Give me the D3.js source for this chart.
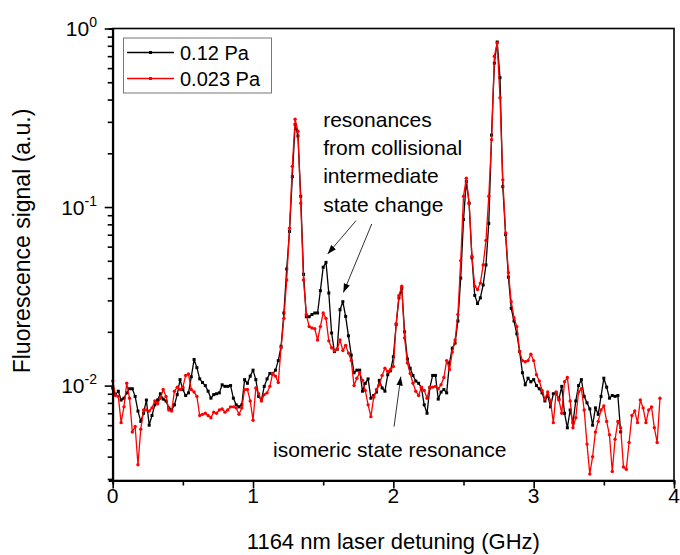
<!DOCTYPE html>
<html>
<head>
<meta charset="utf-8">
<script src="https://cdn.jsdelivr.net/npm/d3@7"></script>
<style>
body { margin: 0; background: #fff; }
text { font-family: "Liberation Sans", Arial, sans-serif; fill: #000; }
</style>
</head>
<body>
<div class="plot"></div>
<script>
// detuning grid of the scan (GHz)
var scanStart = 0.0,
    scanStep = 0.02;

// 0.12 Pa, fluorescence (a.u.)
var signal012 = [
  0.0097, 0.0089, 0.0093, 0.0083, 0.0085, 0.0091, 0.0096, 0.0096, 0.0087, 0.0072,
  0.0063, 0.0070, 0.0083, 0.0060, 0.0068, 0.0078, 0.0083, 0.0090, 0.0084, 0.0082,
  0.0075, 0.0073, 0.0078, 0.0089, 0.0108, 0.0095, 0.0088, 0.0091, 0.0112, 0.0140,
  0.0126, 0.0109, 0.0104, 0.0100, 0.0093, 0.0085, 0.0089, 0.0090, 0.0091, 0.0101,
  0.0099, 0.0099, 0.0100, 0.0085, 0.0078, 0.0076, 0.0078, 0.0108, 0.0103, 0.0113,
  0.0122, 0.0108, 0.0087, 0.0083, 0.0099, 0.0109, 0.0117, 0.0116, 0.0122, 0.0138,
  0.0166, 0.0255, 0.045, 0.073, 0.148, 0.29, 0.25, 0.115, 0.042, 0.0243,
  0.0243, 0.0250, 0.0255, 0.0255, 0.034, 0.046, 0.049, 0.033, 0.0197, 0.0155,
  0.0160, 0.0266, 0.0295, 0.0244, 0.0190, 0.0148, 0.0118, 0.0122, 0.0122, 0.0093,
  0.0103, 0.0109, 0.0085, 0.0088, 0.0092, 0.0107, 0.0097, 0.0093, 0.0115, 0.0121,
  0.0145, 0.0220, 0.031, 0.035, 0.020, 0.0141, 0.0125, 0.0114, 0.0106, 0.0103,
  0.0097, 0.0078, 0.0070, 0.0097, 0.0114, 0.0114, 0.0084, 0.0092, 0.0095, 0.0091,
  0.0134, 0.0162, 0.0173, 0.023, 0.040, 0.085, 0.139, 0.105, 0.052, 0.032,
  0.0288, 0.031, 0.0366, 0.0474, 0.081, 0.253, 0.64, 0.84, 0.53, 0.130,
  0.070, 0.0405, 0.0271, 0.0230, 0.0195, 0.0155, 0.0118, 0.0101, 0.0110, 0.0105,
  0.0108, 0.0100, 0.0096, 0.0091, 0.0082, 0.0088, 0.0076, 0.0090, 0.0091, 0.0084,
  0.0099, 0.0070, 0.0058, 0.0073, 0.0062, 0.0082, 0.0100, 0.0108, 0.0087, 0.0080,
  0.0074, 0.0060, 0.0075, 0.0069, 0.0087, 0.0110, 0.0098, 0.0085, 0.0088, 0.0087,
  0.0088, 0.0055
];

// 0.023 Pa, fluorescence (a.u.)
var signal0023 = [
  0.0106, 0.0088, 0.0087, 0.0062, 0.0076, 0.0103, 0.0085, 0.0055, 0.0059, 0.0036,
  0.0057, 0.0073, 0.0073, 0.0072, 0.0075, 0.0082, 0.0079, 0.0085, 0.0095, 0.0087,
  0.0073, 0.0072, 0.0093, 0.0098, 0.0095, 0.0098, 0.0114, 0.0116, 0.0095, 0.0092,
  0.0087, 0.0068, 0.0069, 0.0070, 0.0068, 0.0066, 0.0071, 0.0070, 0.0073, 0.0074,
  0.0071, 0.0073, 0.0076, 0.0076, 0.0075, 0.0069, 0.0075, 0.0095, 0.0095, 0.0082,
  0.0064, 0.0097, 0.0090, 0.0082, 0.0089, 0.0091, 0.0099, 0.0117, 0.0113, 0.0104,
  0.0163, 0.0238, 0.039, 0.076, 0.169, 0.31, 0.266, 0.105, 0.039, 0.025,
  0.0214, 0.0210, 0.0208, 0.0180, 0.0214, 0.0255, 0.0238, 0.0178, 0.0163, 0.0156,
  0.0160, 0.0180, 0.0157, 0.0168, 0.0152, 0.0138, 0.0100, 0.0110, 0.0118, 0.0107,
  0.0094, 0.0078, 0.0067, 0.0086, 0.0095, 0.0101, 0.0114, 0.0125, 0.0120, 0.0123,
  0.0128, 0.0222, 0.032, 0.036, 0.0185, 0.0134, 0.0117, 0.0103, 0.0093, 0.0088,
  0.0098, 0.0094, 0.0085, 0.0098, 0.0098, 0.0099, 0.0096, 0.0101, 0.0111, 0.0138,
  0.0123, 0.0154, 0.0180, 0.025, 0.050, 0.115, 0.145, 0.105, 0.053, 0.036,
  0.0345, 0.0375, 0.0474, 0.065, 0.115, 0.238, 0.70, 0.83, 0.41, 0.142,
  0.0715, 0.043, 0.0295, 0.0240, 0.0214, 0.0155, 0.0138, 0.0136, 0.0138, 0.0150,
  0.0138, 0.0115, 0.0106, 0.0094, 0.0084, 0.0092, 0.0082, 0.0062, 0.0092, 0.0083,
  0.0070, 0.0105, 0.0111, 0.0082, 0.0058, 0.0066, 0.0092, 0.0096, 0.0073, 0.0047,
  0.0032, 0.0040, 0.0055, 0.0063, 0.0073, 0.0077, 0.0063, 0.0053, 0.0033, 0.0050,
  0.0063, 0.0058, 0.0035, 0.0034, 0.0048, 0.0068, 0.0072, 0.0062, 0.0083, 0.0075,
  0.0062, 0.0073, 0.0076, 0.0058, 0.0048, 0.0085
];

var seriesNames = ["0.12 Pa", "0.023 Pa"];
var xTickLabels = [0, 1, 2, 3, 4];
var yDecades = [-2, -1, 0];
var noteLines = ["resonances", "from collisional", "intermediate", "state change"];
var isoNote = "isomeric state resonance";

var width = 680,
    height = 555;

var x = d3.scaleLinear()
    .domain([0, 4])
    .range([112.7, 674]);

var y = d3.scaleLog()
    .domain([0.00294, 1])
    .range([480.5, 28.5]);

var svg = d3.select(".plot").append("svg")
    .attr("width", width)
    .attr("height", height);

var defs = svg.append("defs");
defs.append("marker")
    .attr("id", "head")
    .attr("viewBox", "0 0 10 10")
    .attr("refX", 10)
    .attr("refY", 5)
    .attr("markerUnits", "userSpaceOnUse")
    .attr("markerWidth", 9)
    .attr("markerHeight", 9)
    .attr("orient", "auto")
  .append("path")
    .attr("d", "M0,1.5 L10,5 L0,8.5 Z")
    .attr("fill", "#000");

function toPoints(values) {
  return values.map(function(v, i) {
    return {f: scanStart + i * scanStep, v: v};
  });
}

var series = [
  {name: seriesNames[0], color: "#000000", shape: "square", points: toPoints(signal012)},
  {name: seriesNames[1], color: "#ff0000", shape: "circle", points: toPoints(signal0023)}
];

var line = d3.line()
    .x(function(d) { return x(d.f); })
    .y(function(d) { return y(d.v); });

// traces
series.forEach(function(s) {
  var g = svg.append("g").attr("class", "trace");
  g.append("path")
      .datum(s.points)
      .attr("d", line)
      .attr("fill", "none")
      .attr("stroke", s.color)
      .attr("stroke-width", 1.3)
      .attr("stroke-linejoin", "round");
  if (s.shape == "square") {
    g.selectAll("rect")
        .data(s.points)
      .enter().append("rect")
        .attr("x", function(d) { return x(d.f) - 1.5; })
        .attr("y", function(d) { return y(d.v) - 1.5; })
        .attr("width", 3)
        .attr("height", 3)
        .attr("fill", s.color);
  } else {
    g.selectAll("circle")
        .data(s.points)
      .enter().append("circle")
        .attr("cx", function(d) { return x(d.f); })
        .attr("cy", function(d) { return y(d.v); })
        .attr("r", 1.7)
        .attr("fill", s.color);
  }
});

// frame
svg.append("rect")
    .attr("x", x.range()[0])
    .attr("y", y.range()[1])
    .attr("width", x.range()[1] - x.range()[0])
    .attr("height", y.range()[0] - y.range()[1])
    .attr("fill", "none")
    .attr("stroke", "#000")
    .attr("stroke-width", 1.6);

// x axis
var xTickVals = d3.range(0, 4.001, 0.5);
var xAxis = svg.append("g")
    .attr("transform", "translate(0," + y.range()[0] + ")")
    .call(d3.axisBottom(x).tickValues(xTickVals).tickSizeOuter(0).tickSize(4).tickFormat(""));
xAxis.select(".domain").attr("stroke-width", 2);
xAxis.selectAll(".tick line")
    .attr("stroke-width", 1.6)
    .attr("y2", function(d) { return d % 1 === 0 ? 8 : 5; });

svg.append("g").selectAll("text")
    .data(xTickLabels)
  .enter().append("text")
    .attr("x", function(d) { return x(d); })
    .attr("y", 503)
    .attr("text-anchor", "middle")
    .style("font-size", "21px")
    .text(function(d) { return d; });

// y axis, log decades with minor ticks
var yTickVals = [];
yDecades.forEach(function(e) {
  for (var k = 1; k < 10; k++) {
    var v = k * Math.pow(10, e - 1);
    if (v >= y.domain()[0] * 0.999) yTickVals.push(v);
  }
});
yTickVals.push(1);

var yAxis = svg.append("g")
    .attr("transform", "translate(" + x.range()[0] + ",0)")
    .call(d3.axisLeft(y).tickValues(yTickVals).tickSizeOuter(0).tickSize(4).tickFormat(""));
yAxis.select(".domain").attr("stroke-width", 2);
yAxis.selectAll(".tick line")
    .attr("stroke-width", 1.6)
    .attr("x2", function(d) {
      var l = Math.log10(d);
      return Math.abs(l - Math.round(l)) < 1e-6 ? -8 : -5;
    });

var yLab = svg.append("g").selectAll("text")
    .data(yDecades)
  .enter().append("text")
    .attr("x", 97)
    .attr("y", function(d) { return y(Math.pow(10, d)) + 7.5; })
    .attr("text-anchor", "end")
    .style("font-size", "21px");
yLab.append("tspan").text("10");
yLab.append("tspan")
    .attr("dy", -9)
    .style("font-size", "14px")
    .text(function(d) { return d === 0 ? "0" : String(d); });

// axis titles
svg.append("text")
    .attr("x", (x.range()[0] + x.range()[1]) / 2)
    .attr("y", 549)
    .attr("text-anchor", "middle")
    .style("font-size", "22px")
    .text("1164 nm laser detuning (GHz)");

svg.append("text")
    .attr("transform", "translate(30," + 241 + ") rotate(-90)")
    .attr("text-anchor", "middle")
    .style("font-size", "23px")
    .text("Fluorescence signal (a.u.)");

// legend
var legend = svg.append("g");
legend.append("rect")
    .attr("x", 123.5)
    .attr("y", 38)
    .attr("width", 148)
    .attr("height", 55)
    .attr("fill", "#fff")
    .attr("stroke", "#777")
    .attr("stroke-width", 1);

var item = legend.selectAll(".item")
    .data(series)
  .enter().append("g")
    .attr("class", "item")
    .attr("transform", function(d, i) { return "translate(0," + (52.5 + i * 26) + ")"; });
item.append("line")
    .attr("x1", 127)
    .attr("x2", 174)
    .attr("stroke", function(d) { return d.color; })
    .attr("stroke-width", 1.3);
item.append("rect")
    .attr("x", 149)
    .attr("y", -1.5)
    .attr("width", 3)
    .attr("height", 3)
    .attr("fill", function(d) { return d.color; });
item.append("text")
    .attr("x", 180)
    .attr("dy", "0.36em")
    .style("font-size", "20px")
    .text(function(d) { return d.name; });

// annotations
svg.append("g").selectAll("text")
    .data(noteLines)
  .enter().append("text")
    .attr("x", x(1.5))
    .attr("y", function(d, i) { return y(0.282) + i * 28.4; })
    .style("font-size", "21px")
    .text(function(d) { return d; });

svg.append("text")
    .attr("x", x(1.143))
    .attr("y", y(0.0040))
    .style("font-size", "21px")
    .text(isoNote);

var arrows = [
  {f0: 1.734, v0: 0.0839, f1: 1.532, v1: 0.0546},
  {f0: 1.846, v0: 0.0804, f1: 1.644, v1: 0.0332},
  {f0: 2.005, v0: 0.00589, f1: 2.053, v1: 0.01123}
];
svg.append("g").selectAll("line")
    .data(arrows)
  .enter().append("line")
    .attr("x1", function(d) { return x(d.f0); })
    .attr("y1", function(d) { return y(d.v0); })
    .attr("x2", function(d) { return x(d.f1); })
    .attr("y2", function(d) { return y(d.v1); })
    .attr("stroke", "#333")
    .attr("stroke-width", 1)
    .attr("marker-end", "url(#head)");
</script>
</body>
</html>
